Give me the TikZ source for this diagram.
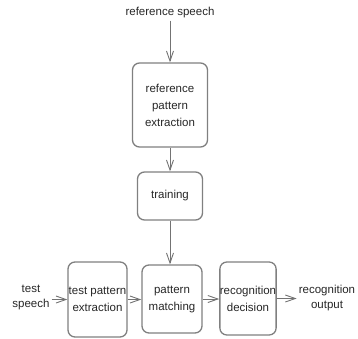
\documentclass[tikz,border=0pt]{standalone}
\usepackage{fontspec}
\setmainfont{Liberation Sans}
\usetikzlibrary{arrows.meta}
\tikzset{
  stage/.style={draw=black!50,line width=1.3pt,rounded corners=7pt,align=center,inner sep=0pt,text=black!85,font=\fontsize{11.5}{17}\selectfont},
  label/.style={align=center,inner sep=2pt,text=black!85,font=\fontsize{11.5}{15}\selectfont},
  flow/.style={draw=black!55,line width=0.9pt,-{Straight Barb[length=10pt,width=7pt]}}
}
\begin{document}
\begin{tikzpicture}[x=1pt,y=-1pt]
\useasboundingbox (0,0) rectangle (358,338);
    \node (refspeech) at (170,13) [label] {reference speech};
    \node (refext) at (170,105) [stage,minimum width=75pt,minimum height=84pt] {reference\\pattern\\extraction};
    \node (training) at (170,196) [stage,minimum width=65pt,minimum height=48pt] {training};
    \node (testspeech) at (31,297) [label] {test\\speech};
    \node (testext) at (97.5,299.5) [stage,minimum width=59pt,minimum height=75pt] {test pattern\\extraction};
    \node (matching) at (172,299) [stage,minimum width=60pt,minimum height=68pt] {pattern\\matching};
    \node (decision) at (248,298.5) [stage,minimum width=56pt,minimum height=73pt] {recognition\\decision};
    \node (output) at (327,298) [label] {recognition\\output};
    \draw [flow] (refspeech) to (refext);
    \draw [flow] (refext) to (training);
    \draw [flow] (training) to (training|-matching.north);
    \draw [flow] (testspeech.east|-testext) to (testext);
    \draw [flow] (testext) to (matching.west|-testext);
    \draw [flow] (matching) to (decision.west|-matching);
    \draw [flow] (decision) to (output.west|-decision);
\end{tikzpicture}
\end{document}
